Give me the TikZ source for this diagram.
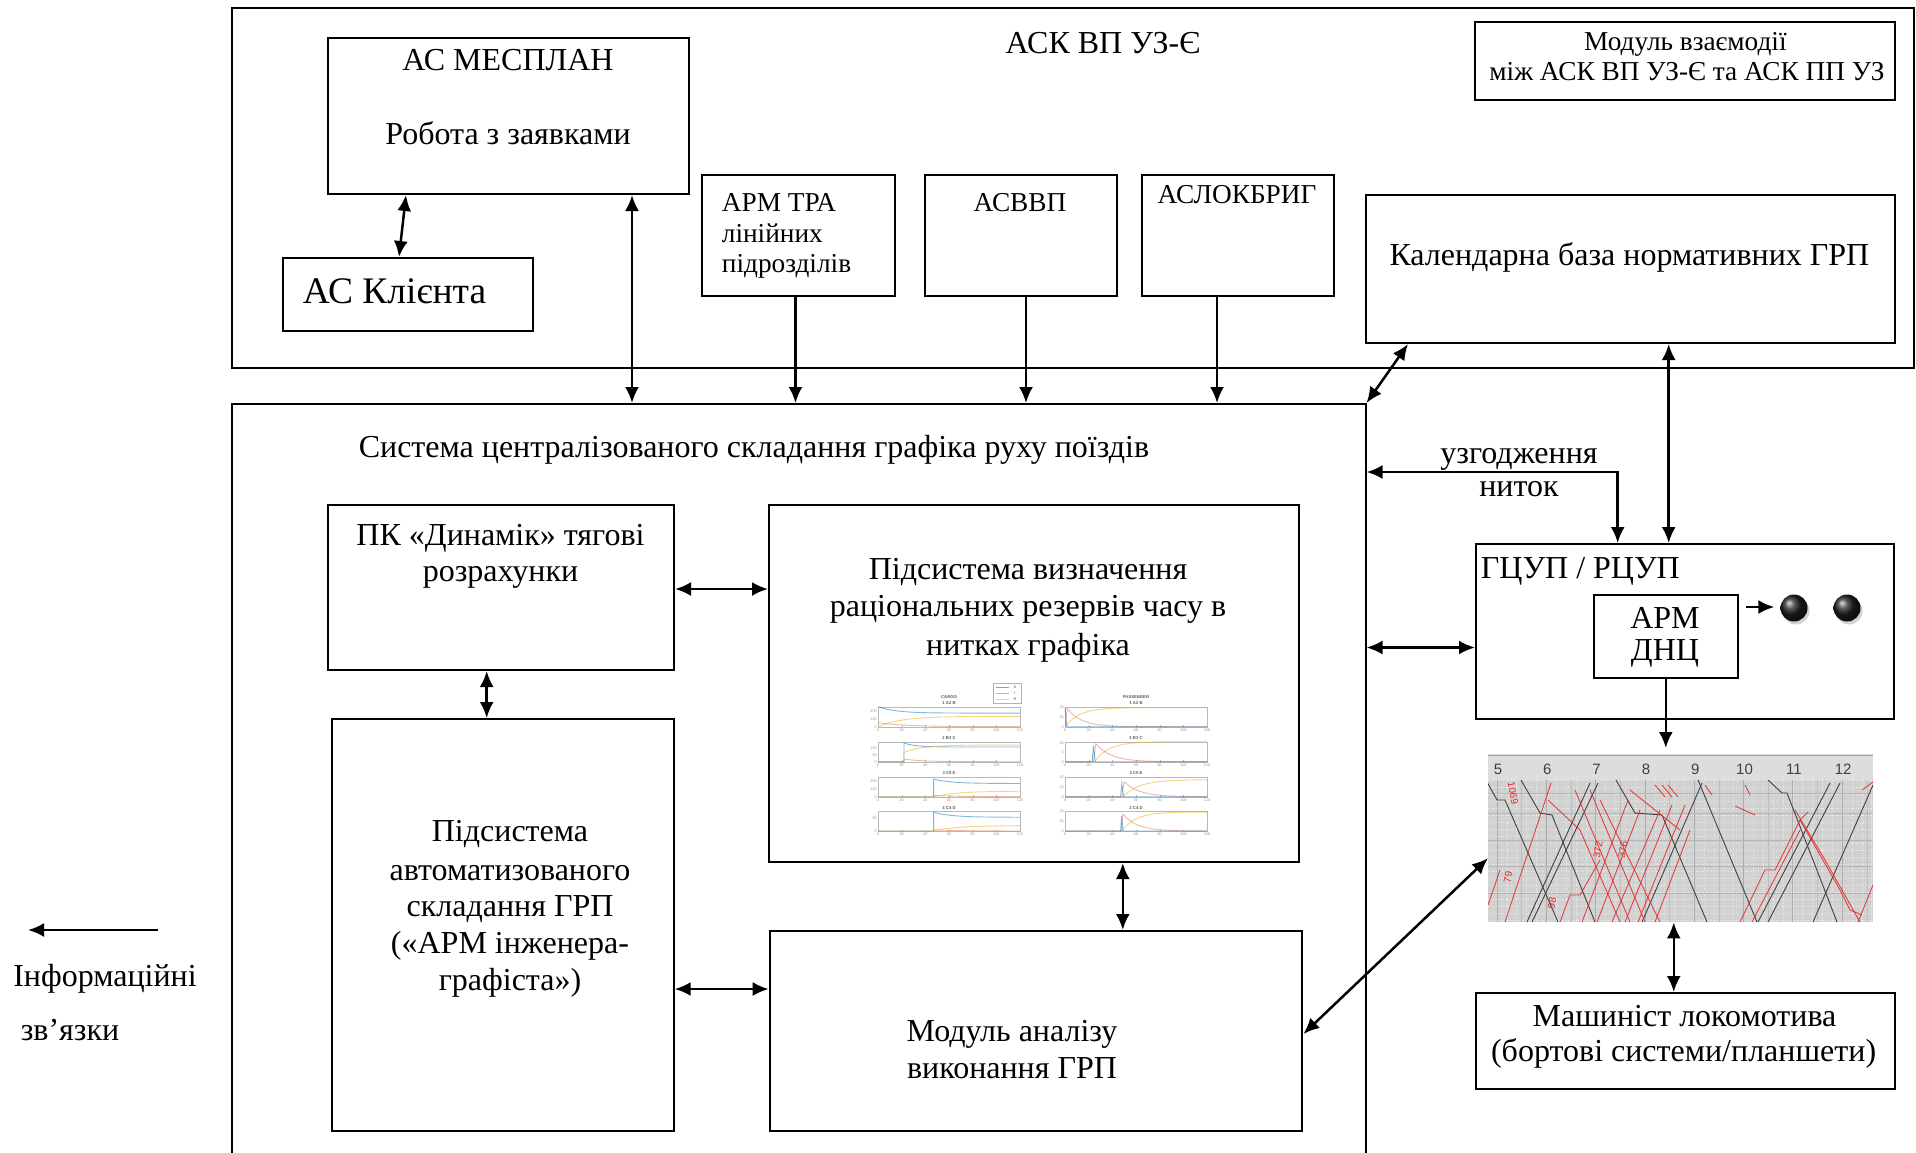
\documentclass[tikz,border=0pt]{standalone}
\usepackage{fontspec}
\setmainfont{Liberation Serif}
\newfontfamily\chsans{Liberation Sans}
\usetikzlibrary{arrows.meta,calc,shadows}
\definecolor{cS}{RGB}{0,114,189}
\definecolor{cI}{RGB}{217,83,25}
\definecolor{cR}{RGB}{237,177,32}
\definecolor{tred}{RGB}{228,40,40}
\newcommand{\chaxes}[5]{%
  \draw[gray!55, line width=0.4pt] (#1,#2) rectangle ++(142,20);
  \node[cttl] at ({#1+71},{#2-3.2}) {#3};
  \foreach \k in {0,...,6}{%
    \pgfmathtruncatemacro{\lab}{\k*20}%
    \draw[gray!55, line width=0.3pt] ({#1+\k*142/6},{#2+20}) -- ++(0,-1.5);
    \node[ctick] at ({#1+\k*142/6},{#2+23}) {\lab};
  }
  \foreach \v in {#5}{%
    \node[ctick, anchor=east] at ({#1-1},{#2+20-20*\v/#4}) {\v};
  }
}
\begin{document}
\begin{tikzpicture}[x=1pt,y=-1pt,
  box/.style={draw, line width=2pt, rectangle, inner sep=0pt, anchor=north west},
  arr/.style={line width=2.5pt, -{Latex[length=16pt,width=14pt]}},
  arrb/.style={line width=2.5pt, {Latex[length=16pt,width=14pt]}-{Latex[length=16pt,width=14pt]}},
  tm/.style={font=\fontsize{32}{37}\selectfont, inner sep=0pt, anchor=base},
  ts/.style={font=\fontsize{27.3}{30}\selectfont, inner sep=0pt, anchor=base},
  tb/.style={font=\fontsize{37.5}{42}\selectfont, inner sep=0pt, anchor=base},
  ctick/.style={font=\chsans\fontsize{3.8}{4}\selectfont, inner sep=0pt, text=gray!80},
  cttl/.style={font=\chsans\bfseries\fontsize{4.2}{4.5}\selectfont, inner sep=0pt, text=gray!70!black},
  sS/.style={cS, opacity=0.5, line width=0.9pt},
  sI/.style={cI, opacity=0.4, line width=0.9pt},
  sR/.style={cR, opacity=0.55, line width=0.9pt},
  tblk/.style={black!75, line width=0.9pt},
  tredl/.style={tred, opacity=0.85, line width=0.9pt},
  gnum/.style={font=\chsans\fontsize{15}{15}\selectfont, inner sep=0pt, text=black!75},
  glab/.style={font=\chsans\fontsize{10}{10}\selectfont, inner sep=0pt, text=tred},
]
\useasboundingbox (0,0) rectangle (1916,1152);
\clip (0,0) rectangle (1916,1152);
\fill[white] (0,0) rectangle (1916,1152);

% ---------- boxes ----------
\node[box, minimum width=1682, minimum height=360] (ask) at (231,7) {};
\node[box, minimum width=361, minimum height=156] (mesplan) at (327,37) {};
\node[box, minimum width=250, minimum height=73] (klient) at (282,257) {};
\node[box, minimum width=193, minimum height=121] (armtra) at (701,174) {};
\node[box, minimum width=192, minimum height=121] (asvvp) at (924,174) {};
\node[box, minimum width=192, minimum height=121] (aslok) at (1141,174) {};
\node[box, minimum width=529, minimum height=148] (calendar) at (1364.5,194) {};
\node[box, minimum width=419.5, minimum height=78] (vzaem) at (1474,21) {};
\node[box, minimum width=1133.5, minimum height=800] (sys) at (231,403) {};
\node[box, minimum width=346, minimum height=165] (dynamik) at (327,504) {};
\node[box, minimum width=529.5, minimum height=357] (vyzn) at (768,504) {};
\node[box, minimum width=342, minimum height=412] (avto) at (330.7,718) {};
\node[box, minimum width=532.7, minimum height=200] (analiz) at (768.7,930) {};
\node[box, minimum width=418, minimum height=175] (gtsup) at (1475,543) {};
\node[box, minimum width=144, minimum height=83] (armdnc) at (1592.8,594) {};
\node[box, minimum width=418.5, minimum height=96] (mash) at (1475,992) {};

% ---------- texts ----------
\node[tm] (t1) at (1103,53) {АСК ВП УЗ-Є};
\node[tm] (t2) at (508,70) {АС МЕСПЛАН};
\node[tm] (t3) at (508,144) {Робота з заявками};
\node[tb] (t4) at (394.5,303.3) {АС Клієнта};
\node[ts, anchor=base west] (t5) at (721.7,211.7) {АРМ ТРА};
\node[ts, anchor=base west] (t6) at (721.7,242) {лінійних};
\node[ts, anchor=base west] (t7) at (721.7,272) {підрозділів};
\node[ts] (t8) at (1020,211.7) {АСВВП};
\node[ts] (t9) at (1237,203.3) {АСЛОКБРИГ};
\node[ts] (t10) at (1685.4,50) {Модуль взаємодії};
\node[ts] (t11) at (1687,80) {між АСК ВП УЗ-Є та АСК ПП УЗ};
\node[tm] (t12) at (1629.4,265) {Календарна база нормативних ГРП};
\node[tm] (t13) at (754,457.3) {Система централізованого складання графіка руху поїздів};
\node[tm] (t14) at (500.5,545) {ПК «Динамік» тягові};
\node[tm] (t15) at (500.5,581) {розрахунки};
\node[tm] (t16) at (1028,579.3) {Підсистема визначення};
\node[tm] (t17) at (1028,616.7) {раціональних резервів часу в};
\node[tm] (t18) at (1028,655) {нитках графіка};
\node[tm] (t19) at (510,841.7) {Підсистема};
\node[tm] (t20) at (510,880) {автоматизованого};
\node[tm] (t21) at (510,916.7) {складання ГРП};
\node[tm] (t22) at (510,953.3) {(«АРМ інженера-};
\node[tm] (t23) at (510,990) {графіста»)};
\node[tm] (t24) at (1012,1041.7) {Модуль аналізу};
\node[tm] (t25) at (1012,1078.3) {виконання ГРП};
\node[tm, anchor=base west] (t26) at (1480.7,578.3) {ГЦУП / РЦУП};
\node[tm] (t27) at (1665,628.3) {АРМ};
\node[tm] (t28) at (1665,660) {ДНЦ};
\node[tm] (t29) at (1519,463.3) {узгодження};
\node[tm] (t30) at (1519,496.7) {ниток};
\node[tm] (t31) at (1684.5,1026.7) {Машиніст локомотива};
\node[tm] (t32) at (1683.6,1061.7) {(бортові системи/планшети)};
\node[tm] (t33) at (105,986) {Інформаційні};
\node[tm] (t34) at (70,1040) {зв’язки};

% ---------- dots ----------
\node[circle, minimum size=27pt, inner sep=0pt, ball color=gray!25!black,
  drop shadow={shadow xshift=2pt, shadow yshift=-3pt, opacity=0.35}] (dot1) at (1794,608) {};
\node[circle, minimum size=27pt, inner sep=0pt, ball color=gray!25!black,
  drop shadow={shadow xshift=2pt, shadow yshift=-3pt, opacity=0.35}] (dot2) at (1847,608) {};

% ---------- chart inside vyzn ----------
\chaxes{878}{706.7}{1 A2 B}{250}{200,100,0}
\chaxes{878}{741.7}{2 B3 C}{150}{100,50,0}
\chaxes{878}{776.7}{3 C5 E}{250}{200,100,0}
\chaxes{878}{811}{3 C4 D}{80}{50,0}
\chaxes{1065}{706.7}{1 A2 B}{20}{20,10,0}
\chaxes{1065}{741.7}{2 B3 C}{11}{10,5,0}
\chaxes{1065}{776.7}{3 C5 E}{20}{20,10,0}
\chaxes{1065}{811}{3 C4 D}{20}{20,10,0}
\node[cttl] (ctc) at (949,697) {CARGO};
\node[cttl] (ctp) at (1136,697) {PASSENGER};
\node[draw=gray!60, line width=0.4pt, fill=white, minimum width=28, minimum height=20.3, inner sep=0pt, anchor=north west] (leg) at (993,683) {};
\draw[cS, opacity=0.6, line width=0.8pt] (996,687.5) -- (1009,687.5);
\draw[cI, opacity=0.5, line width=0.8pt] (996,693.5) -- (1009,693.5);
\draw[cR, opacity=0.6, line width=0.8pt] (996,699.5) -- (1009,699.5);
\node[ctick, text=gray!60!black] (lS) at (1015,687.5) {S};
\node[ctick, text=gray!60!black] (lI) at (1015,693.5) {I};
\node[ctick, text=gray!60!black] (lR) at (1015,699.5) {R};

\begin{scope}[shift={(878,726.7)}, x=1.18333pt, y=0.08pt]
  \draw[sR] plot[domain=0:120,samples=30] (\x,{130*(1-exp(-\x/20))});
  \draw[sI] plot[domain=0:120,samples=30] (\x,{50*exp(-\x/25)});
  \draw[sS] plot[domain=0:120,samples=30] (\x,{170+80*exp(-\x/15)});
\end{scope}
\begin{scope}[shift={(878,761.7)}, x=1.18333pt, y=0.13333pt]
  \draw[sS] (0,0) -- (22,0) -- (22,140) -- plot[domain=22:120,samples=30] (\x,{110+30*exp(-(\x-22)/10)});
  \draw[sI] (0,0) -- (22,0) -- (22,20) -- plot[domain=22:120,samples=30] (\x,{20*exp(-(\x-22)/15)});
  \draw[sR] (0,0) -- (22,0) -- (22,70) -- plot[domain=22:120,samples=30] (\x,{125-55*exp(-(\x-22)/15)});
\end{scope}
\begin{scope}[shift={(878,796.7)}, x=1.18333pt, y=0.08pt]
  \draw[sS] (0,0) -- (47,0) -- (47,220) -- plot[domain=47:120,samples=30] (\x,{165+55*exp(-(\x-47)/15)});
  \draw[sI] (47,0) -- (47,15) -- plot[domain=47:120,samples=30] (\x,{15*exp(-(\x-47)/20)});
  \draw[sR] (0,0) -- (47,0) -- plot[domain=47:120,samples=30] (\x,{70*(1-exp(-(\x-47)/20))});
\end{scope}
\begin{scope}[shift={(878,831)}, x=1.18333pt, y=0.25pt]
  \draw[sS] (0,0) -- (47,0) -- (47,75) -- plot[domain=47:120,samples=30] (\x,{55+20*exp(-(\x-47)/15)});
  \draw[sI] (47,0) -- (47,5) -- plot[domain=47:120,samples=30] (\x,{5*exp(-(\x-47)/20)});
  \draw[sR] (0,0) -- (47,0) -- plot[domain=47:120,samples=30] (\x,{22*(1-exp(-(\x-47)/20))});
\end{scope}
\begin{scope}[shift={(1065,726.7)}, x=1.18333pt, y=1pt]
  \draw[sR] plot[domain=0:120,samples=40] (\x,{19*(1-exp(-\x/12))});
  \draw[sI] (0,0) -- (2,18) -- plot[domain=2:120,samples=40] (\x,{18*exp(-(\x-2)/12)});
  \draw[sS] (0,19) -- (1.5,0) -- (120,0);
\end{scope}
\begin{scope}[shift={(1065,761.7)}, x=1.18333pt, y=1.818pt]
  \draw[sR] (0,0) -- (25,0) -- plot[domain=25:120,samples=40] (\x,{11*(1-exp(-(\x-25)/12))});
  \draw[sI] (0,0) -- (24,0) -- (26,10) -- plot[domain=26:120,samples=40] (\x,{10*exp(-(\x-26)/13)});
  \draw[sS] (0,0) -- (23,0) -- (24,9) -- (25.5,0) -- (120,0);
\end{scope}
\begin{scope}[shift={(1065,796.7)}, x=1.18333pt, y=1pt]
  \draw[sR] (0,0) -- (49,0) -- plot[domain=49:120,samples=40] (\x,{17*(1-exp(-(\x-49)/14))});
  \draw[sI] (0,0) -- (48,0) -- (50,15) -- plot[domain=50:120,samples=40] (\x,{15*exp(-(\x-50)/13)});
  \draw[sS] (0,0) -- (47,0) -- (48,13) -- (49.5,0) -- (120,0);
\end{scope}
\begin{scope}[shift={(1065,831)}, x=1.18333pt, y=1pt]
  \draw[sR] (0,0) -- (48,0) -- plot[domain=48:120,samples=40] (\x,{19*(1-exp(-(\x-48)/12))});
  \draw[sI] (0,0) -- (47.5,0) -- (49,17) -- plot[domain=49:120,samples=40] (\x,{17*exp(-(\x-49)/12)});
  \draw[sS] (0,0) -- (47,0) -- (47.8,15) -- (49,0) -- (120,0);
\end{scope}

% ---------- train graph ----------
\node[inner sep=0pt, minimum width=385, minimum height=168, anchor=north west, fill=gray!36] (graph) at (1488,754) {};
\begin{scope}
  \clip (1488,754) rectangle (1873,922);
  \fill[gray!27] (1488,754) rectangle (1873,780);
  \draw[gray!75, line width=1pt] (1488,755) -- (1873,755);
  \foreach \i in {0,...,39} \draw[white, opacity=0.55, line width=0.5pt, dotted] ({1487.14+\i*9.86},780) -- ++(0,142);
  \foreach \j in {0,...,20} \draw[white, opacity=0.55, line width=0.5pt, dotted] (1488,{780+\j*7}) -- ++(385,0);
  \foreach \h in {0,...,7} \draw[gray!65, line width=0.7pt] ({1497+\h*49.3},780) -- ++(0,142);
  \foreach \h in {0,...,7} \draw[gray!52, line width=0.5pt] ({1521.65+\h*49.3},780) -- ++(0,142);
  \foreach \yy in {793,813,840,866,893} \draw[gray!58, line width=0.6pt] (1488,\yy) -- (1873,\yy);
  \foreach \h/\t in {0/5,1/6,2/7,3/8,4/9,5/10,6/11,7/12} \node[gnum] at ({1498+\h*49.3},769) {\t};
  % black trains
  \draw[tblk] (1486,780) -- (1497,800) -- (1505,800) -- (1558,922);
  \draw[tblk] (1521,780) -- (1540,813) -- (1552,815) -- (1595,922);
  \draw[tblk] (1527,922) -- (1590,783);
  \draw[tblk] (1532,922) -- (1598,783);
  \draw[tblk] (1616,780) -- (1635,813) -- (1662,815) -- (1707,922);
  \draw[tblk] (1642,922) -- (1702,783);
  \draw[tblk] (1698,780) -- (1757,922);
  \draw[tblk] (1768,780) -- (1782,793) -- (1787,793) -- (1837,922);
  \draw[tblk] (1758,922) -- (1830,783);
  \draw[tblk] (1768,922) -- (1840,783);
  \draw[tblk] (1813,922) -- (1873,785);
  % red trains
  \draw[tredl] (1505,922) -- (1551,783);
  \draw[tredl] (1488,905) -- (1500,870);
  \draw[tredl] (1548,800) -- (1580,830) -- (1620,922);
  \draw[tredl] (1575,790) -- (1630,922);
  \draw[tredl] (1590,790) -- (1645,922);
  \draw[tredl] (1600,800) -- (1660,922);
  \draw[tredl] (1582,922) -- (1628,800);
  \draw[tredl] (1597,922) -- (1640,810);
  \draw[tredl] (1612,922) -- (1660,810);
  \draw[tredl] (1625,922) -- (1672,805);
  \draw[tredl] (1638,922) -- (1685,805);
  \draw[tredl] (1655,922) -- (1690,830);
  \draw[tredl] (1560,922) -- (1570,895) -- (1580,895) -- (1600,860);
  \draw[tredl] (1630,790) -- (1680,830);
  \draw[tredl] (1655,785) -- (1665,797);
  \draw[tredl] (1662,785) -- (1672,797);
  \draw[tredl] (1668,785) -- (1678,797);
  \draw[tredl] (1705,785) -- (1712,795);
  \draw[tredl] (1745,785) -- (1750,795);
  \draw[tredl] (1735,806) -- (1755,815);
  \draw[tredl] (1740,922) -- (1765,870) -- (1775,870) -- (1800,820) -- (1808,812);
  \draw[tredl] (1752,922) -- (1800,830);
  \draw[tredl] (1795,810) -- (1825,860) -- (1860,922);
  \draw[tredl] (1800,820) -- (1840,890) -- (1850,910) -- (1862,915);
  \draw[tredl] (1858,922) -- (1873,885);
  \draw[tredl] (1862,790) -- (1873,782);
  \node[glab, rotate=-80] (g1) at (1513,793) {1069};
  \node[glab, rotate=80] (g2) at (1508,877) {79};
  \node[glab, rotate=80] (g3) at (1598,850) {372};
  \node[glab, rotate=80] (g4) at (1623,850) {376};
  \node[glab, rotate=80] (g5) at (1552,903) {98};
\end{scope}

% ---------- connectors ----------
\draw[arrb] ([xshift=-102.5pt]mesplan.south) -- ([xshift=-9pt]klient.north);
\coordinate (ms) at ([xshift=123.5pt]mesplan.south);
\draw[arrb] (ms) -- (ms |- sys.north);
\coordinate (as1) at ([xshift=-3pt]armtra.south);
\draw[arr] (as1) -- (as1 |- sys.north);
\coordinate (as2) at ([xshift=5pt]asvvp.south);
\draw[arr] (as2) -- (as2 |- sys.north);
\coordinate (as3) at ([xshift=-21pt]aslok.south);
\draw[arr] (as3) -- (as3 |- sys.north);
\draw[arrb] (sys.north east) -- ([xshift=43.5pt]calendar.south west);
\coordinate (cs) at ([xshift=38.7pt]calendar.south);
\draw[arrb] (cs) -- (cs |- gtsup.north);
\coordinate (uz) at ($(sys.north east)+(0,69)$);
\draw[arrb] (uz) -| ([xshift=-67.3pt]gtsup.north);
\coordinate (gw) at ([yshift=-16pt]gtsup.west);
\draw[arrb] (gw -| sys.east) -- (gw);
\coordinate (ae) at ([xshift=7pt, yshift=29.5pt]armdnc.east);
\draw[arr, shorten >=6pt] (ae) -- (ae -| dot1.west);
\draw[arr, shorten >=6pt] (armdnc.south) -- (armdnc.south |- graph.north);
\coordinate (mn) at ([xshift=-11.5pt]mash.north);
\draw[arrb] (mn) -- (mn |- graph.south);
\draw[arrb] ([yshift=-20pt]graph.west) -- ([yshift=-3pt]analiz.east);
\coordinate (de) at ([yshift=-1.5pt]dynamik.east);
\draw[arrb] (de) -- (de -| vyzn.west);
\coordinate (ds) at ([xshift=-14.3pt]dynamik.south);
\draw[arrb] (ds) -- (ds |- avto.north);
\coordinate (ae2) at ([yshift=-64pt]avto.east);
\draw[arrb] (ae2) -- (ae2 -| analiz.west);
\coordinate (vs) at ([xshift=89pt]vyzn.south);
\draw[arrb] (vs) -- (vs |- analiz.north);
\coordinate (lg1) at (158,930);
\coordinate (lg2) at (28,930);
\draw[arr] (lg1) -- (lg2);
\end{tikzpicture}
\end{document}
